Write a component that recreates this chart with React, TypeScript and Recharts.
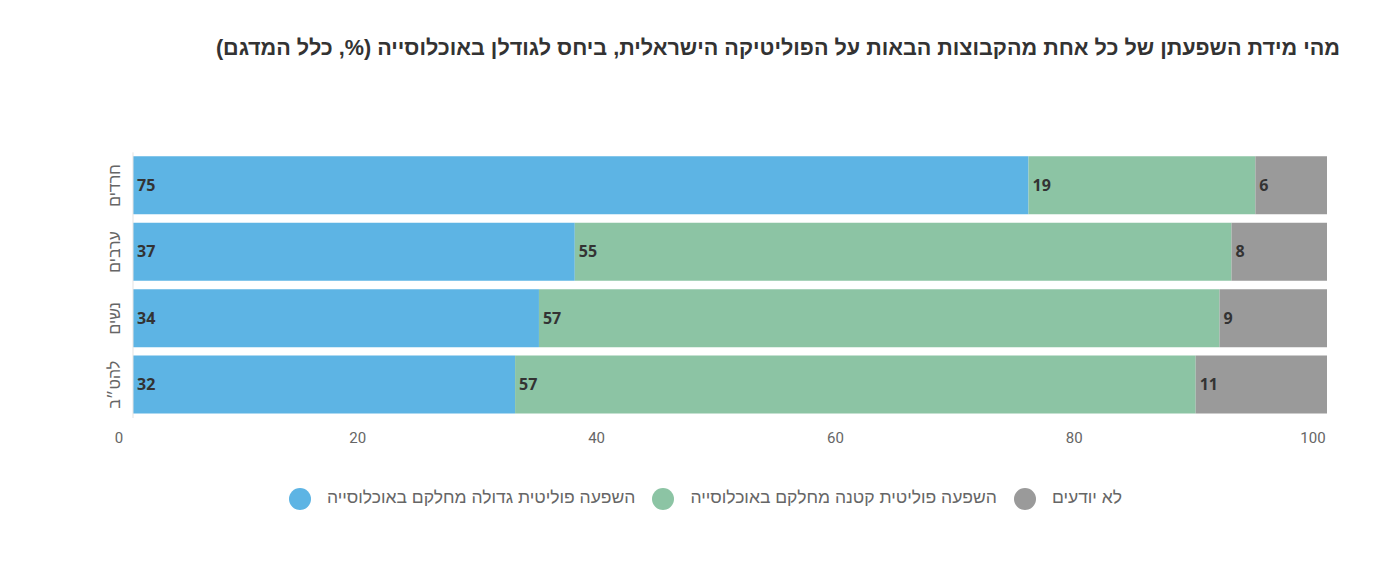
import React from 'react';
import { BarChart, Bar, XAxis, YAxis, Legend, LabelList } from 'recharts';

const groups = ['חרדים', 'ערבים', 'נשים', 'להט״ב'];
const bigInfluence = [75, 37, 34, 32];
const smallInfluence = [19, 55, 57, 57];
const dontKnow = [6, 8, 9, 11];
const xTicks = [0, 20, 40, 60, 80, 100];

const seriesNames = [
    'השפעה פוליטית גדולה מחלקם באוכלוסייה',
    'השפעה פוליטית קטנה מחלקם באוכלוסייה',
    'לא יודעים',
];

const COLORS = ['#5db4e4', '#8cc4a4', '#9a9a9a'];

const data = groups.map((g, i) => ({
    group: g,
    big: bigInfluence[i],
    small: smallInfluence[i],
    unknown: dontKnow[i],
}));

const GroupTick = (props: any) => {
    const { x, y, payload } = props;
    const cx = x - 10;
    return (
        <text
            x={cx}
            y={y}
            transform={`rotate(-90, ${cx}, ${y})`}
            textAnchor="middle"
            dominantBaseline="central"
            fill="#666"
            fontSize={16}
            fontFamily="Liberation Sans, Arial, sans-serif"
        >
            {payload.value}
        </text>
    );
};

const labelStyle = {
    fill: '#333',
    fontSize: 16,
    fontWeight: 700,
    fontFamily: 'Open Sans, sans-serif',
};

const App: React.FC = () => {
    return (
        <div style={{ position: 'absolute', left: 0, top: 0, width: 1400, height: 575, background: '#fff' }}>
            <div
                dir="rtl"
                style={{
                    position: 'absolute',
                    right: 60,
                    top: 35,
                    fontFamily: 'Liberation Sans, Arial, sans-serif',
                    fontWeight: 700,
                    fontSize: 21.6,
                    color: '#333',
                    whiteSpace: 'nowrap',
                }}
            >
                מהי מידת השפעתן של כל אחת מהקבוצות הבאות על הפוליטיקה הישראלית, ביחס לגודלן באוכלוסייה (%, כלל המדגם)
            </div>
            <BarChart
                width={1400}
                height={575}
                data={data}
                layout="vertical"
                margin={{ top: 129, right: 73, bottom: 127, left: 88 }}
                barCategoryGap={4}
            >
                <XAxis
                    type="number"
                    domain={[0, 100]}
                    ticks={xTicks}
                    axisLine={false}
                    tickLine={false}
                    tick={{ fill: '#666', fontSize: 15, fontFamily: 'Roboto, sans-serif', dx: -14, dy: 6 }}
                />
                <YAxis
                    type="category"
                    dataKey="group"
                    width={45}
                    axisLine={{ stroke: '#e3e3e3' }}
                    tickLine={false}
                    tick={<GroupTick />}
                />
                <Legend
                    verticalAlign="top"
                    align="center"
                    iconType="circle"
                    iconSize={22}
                    wrapperStyle={{ top: 487, left: 14, width: 1400 }}
                    formatter={(value: string) => (
                        <span
                            style={{
                                color: '#666',
                                fontSize: 17.5,
                                fontFamily: 'Liberation Sans, Arial, sans-serif',
                                marginLeft: 12,
                                marginRight: 7,
                            }}
                        >
                            {value}
                        </span>
                    )}
                />
                <Bar dataKey="big" name={seriesNames[0]} stackId="a" fill={COLORS[0]} isAnimationActive={false}>
                    <LabelList dataKey="big" position="insideLeft" offset={4} style={labelStyle} />
                </Bar>
                <Bar dataKey="small" name={seriesNames[1]} stackId="a" fill={COLORS[1]} isAnimationActive={false}>
                    <LabelList dataKey="small" position="insideLeft" offset={4} style={labelStyle} />
                </Bar>
                <Bar dataKey="unknown" name={seriesNames[2]} stackId="a" fill={COLORS[2]} isAnimationActive={false}>
                    <LabelList dataKey="unknown" position="insideLeft" offset={4} style={labelStyle} />
                </Bar>
            </BarChart>
        </div>
    );
};

export default App;
